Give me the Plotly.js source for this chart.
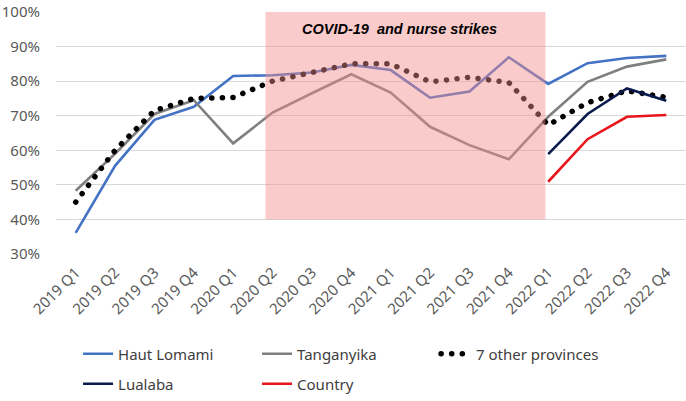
<!DOCTYPE html>
<html>
<head>
<meta charset="utf-8">
<script src="https://cdn.plot.ly/plotly-3.0.1.min.js"></script>
<style>html,body{margin:0;padding:0;background:#fff;} #chart{width:686px;height:401px;}</style>
</head>
<body>
<div id="chart"></div>
<script>
var quarters = ["2019 Q1","2019 Q2","2019 Q3","2019 Q4","2020 Q1","2020 Q2","2020 Q3","2020 Q4",
                "2021 Q1","2021 Q2","2021 Q3","2021 Q4","2022 Q1","2022 Q2","2022 Q3","2022 Q4"];
var hautLomami = [36.1,55.5,68.8,72.6,81.5,81.7,82.5,84.7,83.2,75.2,77.0,86.9,79.2,85.2,86.7,87.3];
var tanganyika = [48.3,59.0,70.5,74.5,62.0,70.9,76.5,82.0,76.7,66.8,61.5,57.4,69.7,79.8,84.2,86.3];
var otherProvinces = [45.0,60.0,71.5,75.0,75.3,80.0,82.5,85.0,85.0,79.8,81.1,79.6,67.3,73.8,77.2,75.3];
var lualaba = [null,null,null,null,null,null,null,null,null,null,null,null,58.9,70.5,77.9,74.3];
var country = [null,null,null,null,null,null,null,null,null,null,null,null,50.9,63.2,69.7,70.2];
var yTicks = [30,40,50,60,70,80,90,100];
var yTickLabels = ["30%","40%","50%","60%","70%","80%","90%","100%"];
var shadeStart = 4.82, shadeEnd = 11.93, shadeLow = 40, shadeHigh = 100;
var shadeLabel = "COVID-19  and nurse strikes";

var font = "Noto Sans, Open Sans, sans-serif";
function tr(name, y, color, legend, dash, width) {
  return {x: quarters, y: y, name: name, type: "scatter", mode: "lines",
    line: {color: color, width: width || 2.6, dash: dash || "solid"},
    legend: legend, hoverinfo: "skip", connectgaps: false};
}
var data = [
  tr("Haut Lomami", hautLomami, "#4472C4", "legend"),
  tr("Tanganyika", tanganyika, "#7F7F7F", "legend"),
  tr("7 other provinces", otherProvinces, "#000000", "legend", "0.1px,10.5px", 5.5),
  tr("Lualaba", lualaba, "#0B1A4D", "legend2"),
  tr("Country", country, "#E8161B", "legend2")
];
var legendBase = {orientation: "h", xanchor: "left", yanchor: "middle",
  font: {family: font, size: 15, color: "#404040"}, bgcolor: "rgba(0,0,0,0)",
  entrywidth: 134, entrywidthmode: "pixels", itemclick: false};
var layout = {
  width: 686, height: 401,
  margin: {l: 56, r: 0, t: 12, b: 147},
  paper_bgcolor: "#fff", plot_bgcolor: "#fff",
  showlegend: true,
  xaxis: {type: "category", range: [-0.5, 15.5], showgrid: false, zeroline: false, showline: false,
    ticks: "", tickangle: -45, ticklabelstandoff: 6, tickfont: {family: font, size: 15, color: "#595959"}, fixedrange: true},
  yaxis: {range: [30, 100], tickvals: yTicks, ticktext: yTickLabels, showgrid: true, gridcolor: "#D9D9D9",
    gridwidth: 1, zeroline: false, showline: false, ticks: "", ticklabelstandoff: 15,
    tickfont: {family: font, size: 15, color: "#595959"}, fixedrange: true},
  legend: Object.assign({}, legendBase, {x: 0.035, y: -0.413}),
  legend2: Object.assign({}, legendBase, {x: 0.035, y: -0.537}),
  shapes: [{type: "rect", xref: "x", yref: "y", x0: shadeStart, x1: shadeEnd, y0: shadeLow, y1: shadeHigh,
    fillcolor: "rgba(244,140,140,0.45)", line: {width: 0}, layer: "above"}],
  annotations: [{xref: "x", yref: "y", x: 8.22, y: 95, text: "<b><i>" + shadeLabel + "</i></b>", showarrow: false,
    font: {family: "Liberation Sans, Arial, sans-serif", size: 14.5, color: "#000"}}]
};
function roundDots() {
  document.querySelectorAll("#chart path").forEach(function (p) {
    var da = p.style.strokeDasharray || p.getAttribute("stroke-dasharray") || "";
    if (da.indexOf("10.5") >= 0) { p.style.strokeLinecap = "round"; }
  });
}
Plotly.newPlot("chart", data, layout, {displayModeBar: false, staticPlot: true}).then(roundDots);
</script>
</body>
</html>
